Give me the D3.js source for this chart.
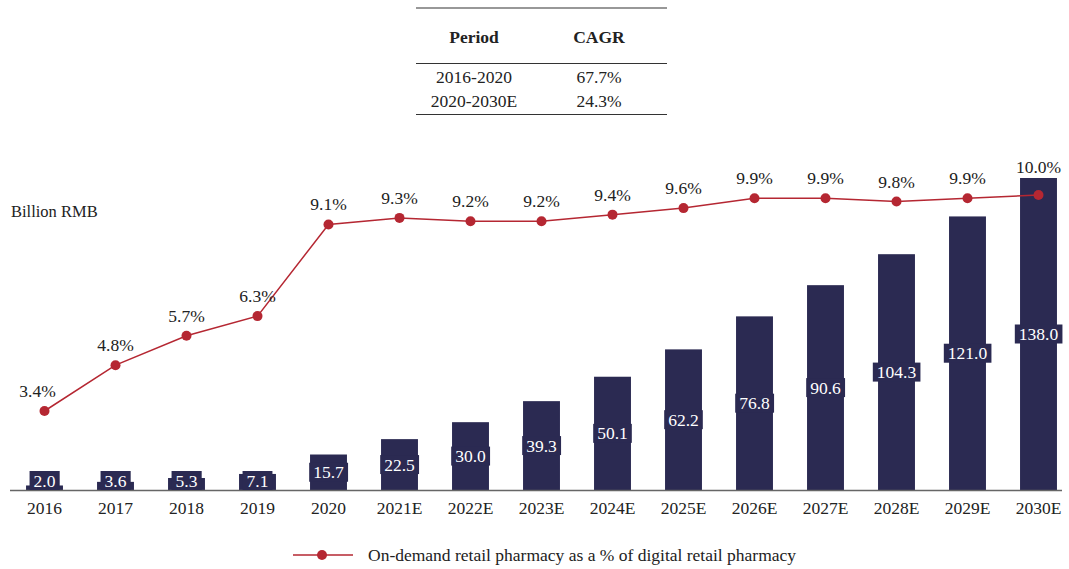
<!DOCTYPE html>
<html><head><meta charset="utf-8">
<script src="https://cdn.jsdelivr.net/npm/d3@7"></script>
<style>body{margin:0;background:#fff}svg{display:block}text{font-family:"Liberation Serif","Times New Roman",serif}</style>
</head><body>
<script>
const categories = ["2016","2017","2018","2019","2020","2021E","2022E","2023E","2024E","2025E","2026E","2027E","2028E","2029E","2030E"];
const marketSize = [2.0,3.6,5.3,7.1,15.7,22.5,30.0,39.3,50.1,62.2,76.8,90.6,104.3,121.0,138.0];
const shareRatio = [3.4,4.8,5.7,6.3,9.1,9.3,9.2,9.2,9.4,9.6,9.9,9.9,9.8,9.9,10.0];
const cagrHeader = ["Period","CAGR"];
const cagrRows = [["2016-2020","67.7%"],["2020-2030E","24.3%"]];
const unitLabel = "Billion RMB";
const legendLabel = "On-demand retail pharmacy as a % of digital retail pharmacy";

const W = 1069, H = 569, FS = 17.5;
const navy = "#2b2a52", red = "#b52732", txt = "#222";
const svg = d3.select("body").append("svg").attr("width", W).attr("height", H);

const x = d3.scaleBand().domain(categories).range([9, 1074]).paddingInner(0.48).paddingOuter(0.24);
const yBar = d3.scaleLinear().domain([0, 138]).range([490, 178]);
const yLine = d3.scaleLinear().domain([3.4, 10]).range([411, 195]);
const cx = i => x(categories[i]) + x.bandwidth()/2;

// bars
svg.append("g").selectAll("rect").data(marketSize).join("rect")
  .attr("x", (d,i) => x(categories[i]))
  .attr("width", x.bandwidth())
  .attr("y", d => yBar(d))
  .attr("height", d => yBar(0) - yBar(d))
  .attr("fill", navy);

// axis line
svg.append("line").attr("x1", 10).attr("x2", 1062).attr("y1", 490.5).attr("y2", 490.5)
  .attr("stroke", "#666").attr("stroke-width", 1.5);

// x axis labels
const xAxis = d3.axisBottom(x).tickSize(0).tickPadding(12);
const gx = svg.append("g").attr("transform", "translate(0,490)").call(xAxis);
gx.select(".domain").remove();
gx.attr("font-family", null);
gx.selectAll("text").attr("font-size", FS).attr("fill", txt).attr("font-family", "Liberation Serif");

// bar value labels
const lblG = svg.append("g");
marketSize.forEach((d,i) => {
  let cy = (yBar(d) + yBar(0)) / 2;
  const bh = 19;
  if (cy + bh/2 > yBar(0)) cy = yBar(0) - bh/2;
  const t = lblG.append("text").attr("x", cx(i)).attr("y", cy + 6).attr("text-anchor", "middle")
    .attr("font-size", FS).attr("fill", "#fff").text(d.toFixed(1));
  const bb = t.node().getBBox();
  lblG.insert("rect", "text").attr("x", bb.x - 4).attr("width", bb.width + 8)
    .attr("y", cy - bh/2).attr("height", bh).attr("fill", navy);
});

// line
const line = d3.line().x((d,i) => cx(i)).y(d => yLine(d));
svg.append("path").datum(shareRatio).attr("d", line).attr("fill", "none")
  .attr("stroke", red).attr("stroke-width", 1.5);
svg.append("g").selectAll("circle").data(shareRatio).join("circle")
  .attr("cx", (d,i) => cx(i))
  .attr("cy", d => yLine(d)).attr("r", 5).attr("fill", red);
svg.append("g").selectAll("text").data(shareRatio).join("text")
  .attr("x", (d,i) => cx(i) - (i === 0 ? 7 : 0))
  .attr("y", (d,i) => Math.min(yLine(d) - 14, yBar(marketSize[i]) - 5)).attr("text-anchor", "middle")
  .attr("font-size", FS).attr("fill", txt).text(d => d.toFixed(1) + "%");

// unit label
svg.append("text").attr("x", 11).attr("y", 217).attr("font-size", 16.5).attr("fill", txt).text(unitLabel);

// CAGR table
const tx0 = 416, tx1 = 667, colX = [474, 599];
[8, 63.5, 114.5].forEach(yy => svg.append("line").attr("x1", tx0).attr("x2", tx1).attr("y1", yy).attr("y2", yy)
  .attr("stroke", "#333").attr("stroke-width", 1.2));
cagrHeader.forEach((h,j) => svg.append("text").attr("x", colX[j]).attr("y", 43).attr("text-anchor","middle")
  .attr("font-size", FS).attr("font-weight", "bold").attr("fill", txt).text(h));
cagrRows.forEach((r,i) => r.forEach((c,j) => svg.append("text").attr("x", colX[j]).attr("y", 83 + i*23.5)
  .attr("text-anchor","middle").attr("font-size", FS).attr("fill", txt).text(c)));

// legend
svg.append("line").attr("x1", 293).attr("x2", 353).attr("y1", 555).attr("y2", 555).attr("stroke", red).attr("stroke-width", 1.5);
svg.append("circle").attr("cx", 322).attr("cy", 555).attr("r", 5).attr("fill", red);
svg.append("text").attr("x", 368).attr("y", 561).attr("font-size", FS).attr("fill", txt).text(legendLabel);
</script>
</body></html>
